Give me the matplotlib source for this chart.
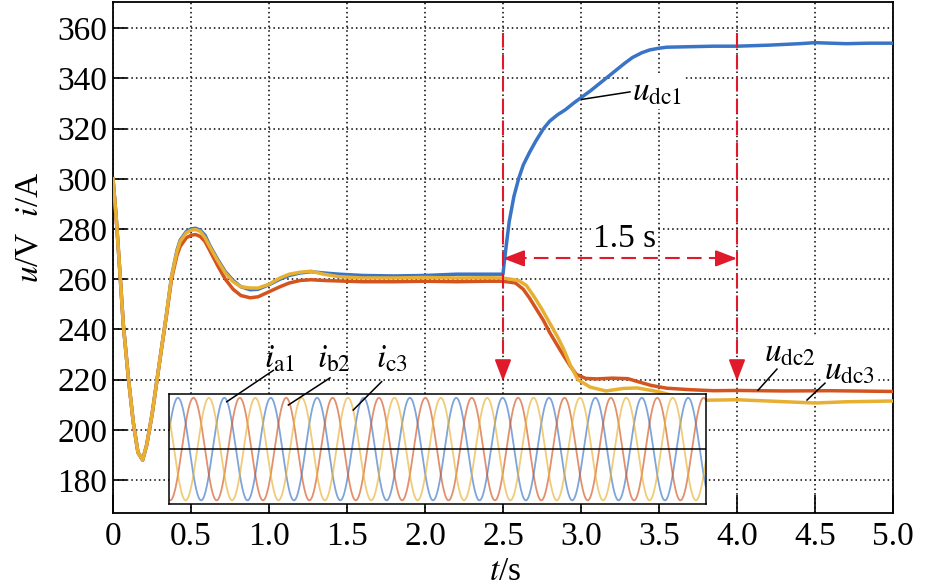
import numpy as np
import matplotlib.pyplot as plt

plt.rcParams['font.family'] = ['Liberation Serif', 'DejaVu Serif']
plt.rcParams['mathtext.fontset'] = 'stix'

# u_dc1 (blue)
t_dc1 = [0, 0.02, 0.045, 0.066, 0.098, 0.13, 0.16, 0.19, 0.216, 0.25,
         0.28, 0.31, 0.345, 0.375, 0.41, 0.43, 0.47, 0.5, 0.53, 0.56,
         0.59, 0.62, 0.67, 0.72, 0.77, 0.82, 0.88, 0.93, 1.0, 1.07,
         1.13, 1.2, 1.27, 1.35, 1.45, 1.6, 1.8, 2.0, 2.2, 2.4,
         2.5, 2.505, 2.52, 2.54, 2.57, 2.6, 2.63, 2.67, 2.71, 2.76,
         2.8, 2.85, 2.9, 2.95, 3.0, 3.06, 3.12, 3.18, 3.23, 3.28,
         3.33, 3.39, 3.44, 3.5, 3.55, 3.7, 3.85, 4.0, 4.2, 4.4,
         4.5, 4.7, 4.85, 5.0]
u_dc1 = [300, 285, 262, 242, 221, 203, 191, 188, 194, 206,
         219, 232, 247, 261, 271.5, 275.5, 279, 280, 280.3, 279.5,
         277.5, 273.5, 268, 263, 259.5, 257, 255.8, 256, 257.8, 260,
         261.5, 262.5, 263, 262.5, 262, 261.5, 261.3, 261.5, 262, 262,
         262, 265, 273, 283, 293, 300, 305.5, 310.5, 315, 320,
         323, 325.5, 327.5, 330, 332.3, 335, 338, 341, 343.5, 346,
         348.3, 350.2, 351.3, 352, 352.4, 352.6, 352.8, 352.8, 353.2, 353.8,
         354.2, 353.8, 354, 354]

# u_dc2 (red)
t_dc2 = [0, 0.02, 0.045, 0.066, 0.098, 0.13, 0.16, 0.19, 0.216, 0.25,
         0.28, 0.31, 0.345, 0.375, 0.41, 0.43, 0.47, 0.5, 0.53, 0.56,
         0.59, 0.62, 0.67, 0.72, 0.77, 0.82, 0.88, 0.93, 1.0, 1.07,
         1.13, 1.2, 1.27, 1.35, 1.45, 1.6, 1.8, 2.0, 2.2, 2.4,
         2.5, 2.58, 2.63, 2.67, 2.715, 2.76, 2.8, 2.85, 2.89, 2.93,
         2.97, 3.03, 3.1, 3.2, 3.3, 3.36, 3.45, 3.55, 3.7, 3.85,
         4.0, 4.3, 4.6, 5.0]
u_dc2 = [300, 285, 262, 242, 221, 203, 191, 188, 194, 206,
         219, 232, 246.5, 260, 269.5, 273, 276.5, 277.5, 277.8, 277,
         275, 271.5, 265.5, 260, 256, 253.5, 252.6, 253, 255, 257,
         258.5, 259.5, 259.8, 259.5, 259.3, 259, 259, 259.2, 259, 259.2,
         259.2, 258.5, 256, 252.5, 248, 243.5, 238.7, 233.5, 229.4, 225.5,
         222.1, 220.5, 220.3, 220.6, 220.4, 219.3, 217.7, 216.6, 216, 215.6,
         215.7, 215.5, 215.6, 215.3]

# u_dc3 (yellow)
t_dc3 = [0, 0.02, 0.045, 0.066, 0.098, 0.13, 0.16, 0.19, 0.216, 0.25,
         0.28, 0.31, 0.345, 0.375, 0.41, 0.43, 0.47, 0.5, 0.53, 0.56,
         0.59, 0.62, 0.67, 0.72, 0.77, 0.82, 0.88, 0.93, 1.0, 1.07,
         1.13, 1.2, 1.27, 1.35, 1.45, 1.6, 1.8, 2.0, 2.2, 2.4,
         2.5, 2.6, 2.65, 2.7, 2.75, 2.8, 2.85, 2.89, 2.93, 2.98,
         3.06, 3.16, 3.27, 3.36, 3.49, 3.6, 3.8, 4.0, 4.2, 4.5,
         4.7, 5.0]
u_dc3 = [300, 285, 262, 242, 221, 203, 191, 188, 194, 206,
         219, 232, 247, 261, 271, 275, 278.5, 279.5, 279.8, 279,
         276.5, 273, 267.5, 262.5, 259, 257, 256.5, 256.5, 258, 260.5,
         262, 262.8, 263.2, 262, 261, 260.5, 260.5, 260.7, 260.5, 260.6,
         260.5, 259.5, 257.5, 253, 248, 242.5, 237, 232, 226, 220,
         217, 215.5, 216.5, 216.7, 215.3, 213.5, 211.8, 212, 211.5, 210.7,
         211.2, 211.5]

# inset currents (cycles shown, first peak of i_a1, phase step)
n_cycles = 11.57
first_peak = 0.19
phase_step = 1 / 3
i_amp = 20

x_ticks = [0, 0.5, 1.0, 1.5, 2.0, 2.5, 3.0, 3.5, 4.0, 4.5, 5.0]
x_ticklabels = ['0', '0.5', '1.0', '1.5', '2.0', '2.5', '3.0', '3.5', '4.0', '4.5', '5.0']
y_ticks = [180, 200, 220, 240, 260, 280, 300, 320, 340, 360]

c_blue = '#3a74c6'
c_red = '#d4541f'
c_yel = '#e8b032'
c_mark = '#e01a2a'
fs = 24

fig = plt.figure(figsize=(9.45, 5.87), dpi=100)
ax = fig.add_axes([113 / 945, 1 - 513 / 587, 780 / 945, 511 / 587])

ax.plot(t_dc1, u_dc1, color=c_blue, lw=2.5, zorder=4)
ax.plot(t_dc2, u_dc2, color=c_red, lw=2.5, zorder=4)
ax.plot(t_dc3, u_dc3, color=c_yel, lw=2.5, zorder=4)

ax.set_xlim(0, 5)
ax.set_ylim(166.9, 370.4)
ax.set_xticks(x_ticks)
ax.set_xticklabels(x_ticklabels)
ax.set_yticks(y_ticks)
ax.tick_params(direction='in', labelsize=fs, width=1.2, color='k')
ax.tick_params(axis='x', length=13, pad=6)
ax.tick_params(axis='y', length=10, pad=4)
ax.grid(True, color='k', linestyle=(0, (1, 2)), linewidth=1.1)
for s in ax.spines.values():
    s.set_linewidth(1.3)

ax.set_xlabel(r'$t$/s', fontsize=fs)
ax.xaxis.set_label_coords(0.503, -0.115)
ax.xaxis.label.set_va('center')
ax.set_ylabel(r'$u$/V  $i$/A', fontsize=fs)
ax.yaxis.set_label_coords(-0.108, 0.558)
ax.yaxis.label.set_va('center')

# red dashed markers
dash = (0, (7, 3.5))
head = dict(arrowstyle='-|>,head_length=0.65,head_width=0.25', color=c_mark,
            lw=1.5, mutation_scale=20, shrinkA=0, shrinkB=0)
for tx in [2.5, 4.0]:
    ax.plot([tx, tx], [358, 226], color=c_mark, lw=1.5, linestyle=dash, zorder=4.5)
    ax.annotate('', xy=(tx, 219.4), xytext=(tx, 227), arrowprops=head, zorder=4.5)
ax.plot([2.56, 3.94], [268.3, 268.3], color=c_mark, lw=1.5, linestyle=dash, zorder=4.5)
ax.annotate('', xy=(2.5, 268.3), xytext=(2.58, 268.3), arrowprops=head, zorder=4.5)
ax.annotate('', xy=(4.0, 268.3), xytext=(3.92, 268.3), arrowprops=head, zorder=4.5)
wbox = dict(facecolor='white', edgecolor='none', pad=1.5)
ax.text(3.28, 276, '1.5 s', fontsize=fs, ha='center', va='center', bbox=wbox, zorder=3)

# curve labels
labels_u = [(r'$u_{\mathrm{dc1}}$', 3.33, 334.5, (3.004, 331.6), (3.314, 334.6)),
            (r'$u_{\mathrm{dc2}}$', 4.17, 230.5, (4.135, 215.8), (4.256, 224.2)),
            (r'$u_{\mathrm{dc3}}$', 4.56, 223.5, (4.449, 211.9), (4.564, 218.6))]
for txt, x, y, p0, p1 in labels_u:
    ax.text(x, y, txt, fontsize=fs, ha='left', va='center', bbox=wbox, zorder=3)
    ax.plot([p0[0], p1[0]], [p0[1], p1[1]], color='k', lw=1.1, zorder=4.6)

# inset with three-phase currents
ins = ax.inset_axes([0.36, 170.5, 3.44, 43.7], transform=ax.transData, zorder=5)
xc = np.linspace(0, n_cycles, 1500)
for k, col in enumerate([c_blue, c_red, c_yel]):
    ins.plot(xc, i_amp * np.cos(2 * np.pi * (xc - first_peak - k * phase_step)),
             color=col, lw=1.3, alpha=0.65)
ins.axhline(0, color='k', lw=1.1)
ins.set_xlim(0, n_cycles)
ins.set_ylim(-1.07 * i_amp, 1.07 * i_amp)
ins.set_xticks([])
ins.set_yticks([])
for s in ins.spines.values():
    s.set_linewidth(1.1)

labels_i = [(r'$i_{\mathrm{a1}}$', 0.968, 228, (0.729, 211.2), (1.028, 223.7)),
            (r'$i_{\mathrm{b2}}$', 1.308, 228, (1.124, 209.9), (1.391, 220.7)),
            (r'$i_{\mathrm{c3}}$', 1.686, 228, (1.540, 207.9), (1.722, 219.2))]
for txt, x, y, p0, p1 in labels_i:
    ax.text(x, y, txt, fontsize=fs, ha='left', va='center', zorder=6)
    ax.plot([p0[0], p1[0]], [p0[1], p1[1]], color='k', lw=1.1, zorder=6)

fig.savefig('out.png', dpi=100)
